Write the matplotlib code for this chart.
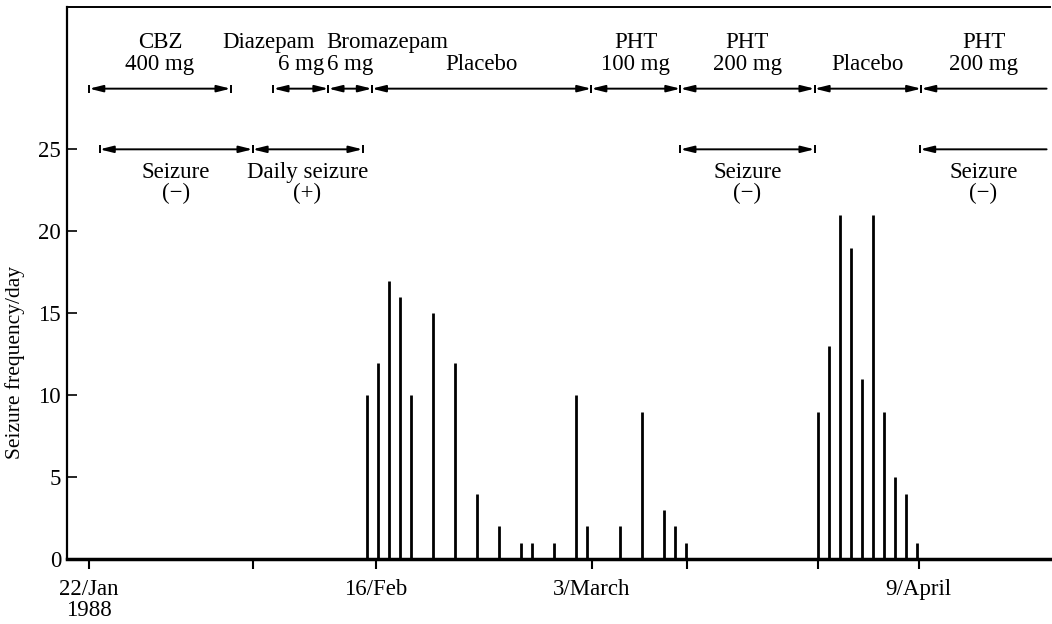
import matplotlib
matplotlib.use('Agg')
import matplotlib.pyplot as plt
from matplotlib.patches import FancyArrowPatch

# seizures per day, x = day number (first seizure day = 25)
days_1 = [25, 26, 27, 28, 29, 31, 33, 35, 37, 39, 40, 42, 44, 45, 48, 50, 52, 53, 54]
counts_1 = [10, 12, 17, 16, 10, 15, 12, 4, 2, 1, 1, 1, 10, 2, 2, 9, 3, 2, 1]
days_2 = [66, 67, 68, 69, 70, 71, 72, 73, 74, 75]
counts_2 = [9, 13, 21, 19, 11, 21, 9, 5, 4, 1]

tick_days = [-0.27, 14.64, 25.82, 45.45, 54.09, 66.0, 75.18]
tick_labels = ['22/Jan\n1988', '', '16/Feb', '3/March', '', '', '9/April']

# treatment periods (None = still going on)
drugs = ['CBZ', 'Diazepam', 'Bromazepam', 'Placebo', 'PHT', 'PHT', 'Placebo', 'PHT']
doses = ['400 mg', '6 mg', '6 mg', '', '100 mg', '200 mg', '', '200 mg']
drug_start = [-0.25, 16.5, 21.5, 25.45, 45.4, 53.5, 65.7, 75.4]
drug_end = [12.6, 21.5, 25.45, 45.4, 53.5, 65.7, 75.4, None]

# seizure state periods
state_names = ['Seizure', 'Daily seizure', 'Seizure', 'Seizure']
state_signs = ['(\u2212)', '(+)', '(\u2212)', '(\u2212)']
state_start = [0.7, 14.6, 53.5, 75.3]
state_end = [14.6, 24.6, 65.7, None]

plt.rcParams['font.family'] = ['Liberation Serif', 'DejaVu Serif']
FS = 16.5
XMIN, XMAX = -2.3, 87.1
OPEN_END = 86.8


def period_arrow(ax, x0, x1, y):
    if x1 is None:
        x1 = OPEN_END
        style = '<|-,head_length=0.8,head_width=0.2'
        ends = [x0]
    else:
        style = '<|-|>,head_length=0.8,head_width=0.2'
        ends = [x0, x1]
    arr = FancyArrowPatch((x0, y), (x1, y), arrowstyle=style, mutation_scale=10,
                          shrinkA=0, shrinkB=0, color='k', lw=1.4)
    ax.add_patch(arr)
    ax.plot(ends, [y] * len(ends), '|', color='k', ms=6, mew=1.4)
    return (x0 + x1) / 2


fig = plt.figure(figsize=(10.52, 6.24), dpi=100)
ax = fig.add_axes([0.0634, 0.1037, 0.9346, 0.8851])

ax.vlines(days_1, 0, counts_1, colors='k', linewidth=2)
ax.vlines(days_2, 0, counts_2, colors='k', linewidth=2)

ax.set_xlim(XMIN, XMAX)
ax.set_ylim(0, 33.68)
ax.set_yticks([0, 5, 10, 15, 20, 25])
ax.set_xticks(tick_days)
ax.set_xticklabels(tick_labels, fontsize=FS, linespacing=1.0)
ax.tick_params(axis='y', direction='in', length=7, width=1.2, labelsize=FS, pad=4)
ax.tick_params(axis='x', direction='out', length=7, width=1.5, pad=7)
ax.set_ylabel('Seizure frequency/day', fontsize=15.5)
ax.yaxis.set_label_coords(-0.0424, 0.357)

ax.spines['right'].set_visible(False)
ax.spines['bottom'].set_linewidth(2.5)
ax.spines['left'].set_linewidth(1.6)
ax.spines['top'].set_linewidth(1.4)

# treatment row
name_shift = {1: -23, 2: 27}
for i in range(len(drugs)):
    xc = period_arrow(ax, drug_start[i], drug_end[i], 28.7)
    if doses[i]:
        ax.annotate(drugs[i], (xc, 31.5), xytext=(name_shift.get(i, 0), 0),
                    textcoords='offset points', ha='center', va='center', fontsize=FS)
        ax.text(xc, 30.15, doses[i], ha='center', va='center', fontsize=FS)
    else:
        ax.text(xc, 30.15, drugs[i], ha='center', va='center', fontsize=FS)

# seizure state row
for i in range(len(state_names)):
    xc = period_arrow(ax, state_start[i], state_end[i], 25.0)
    ax.text(xc, 23.6, state_names[i], ha='center', va='center', fontsize=FS)
    ax.text(xc, 22.3, state_signs[i], ha='center', va='center', fontsize=FS)

fig.savefig('out.png', dpi=100)
